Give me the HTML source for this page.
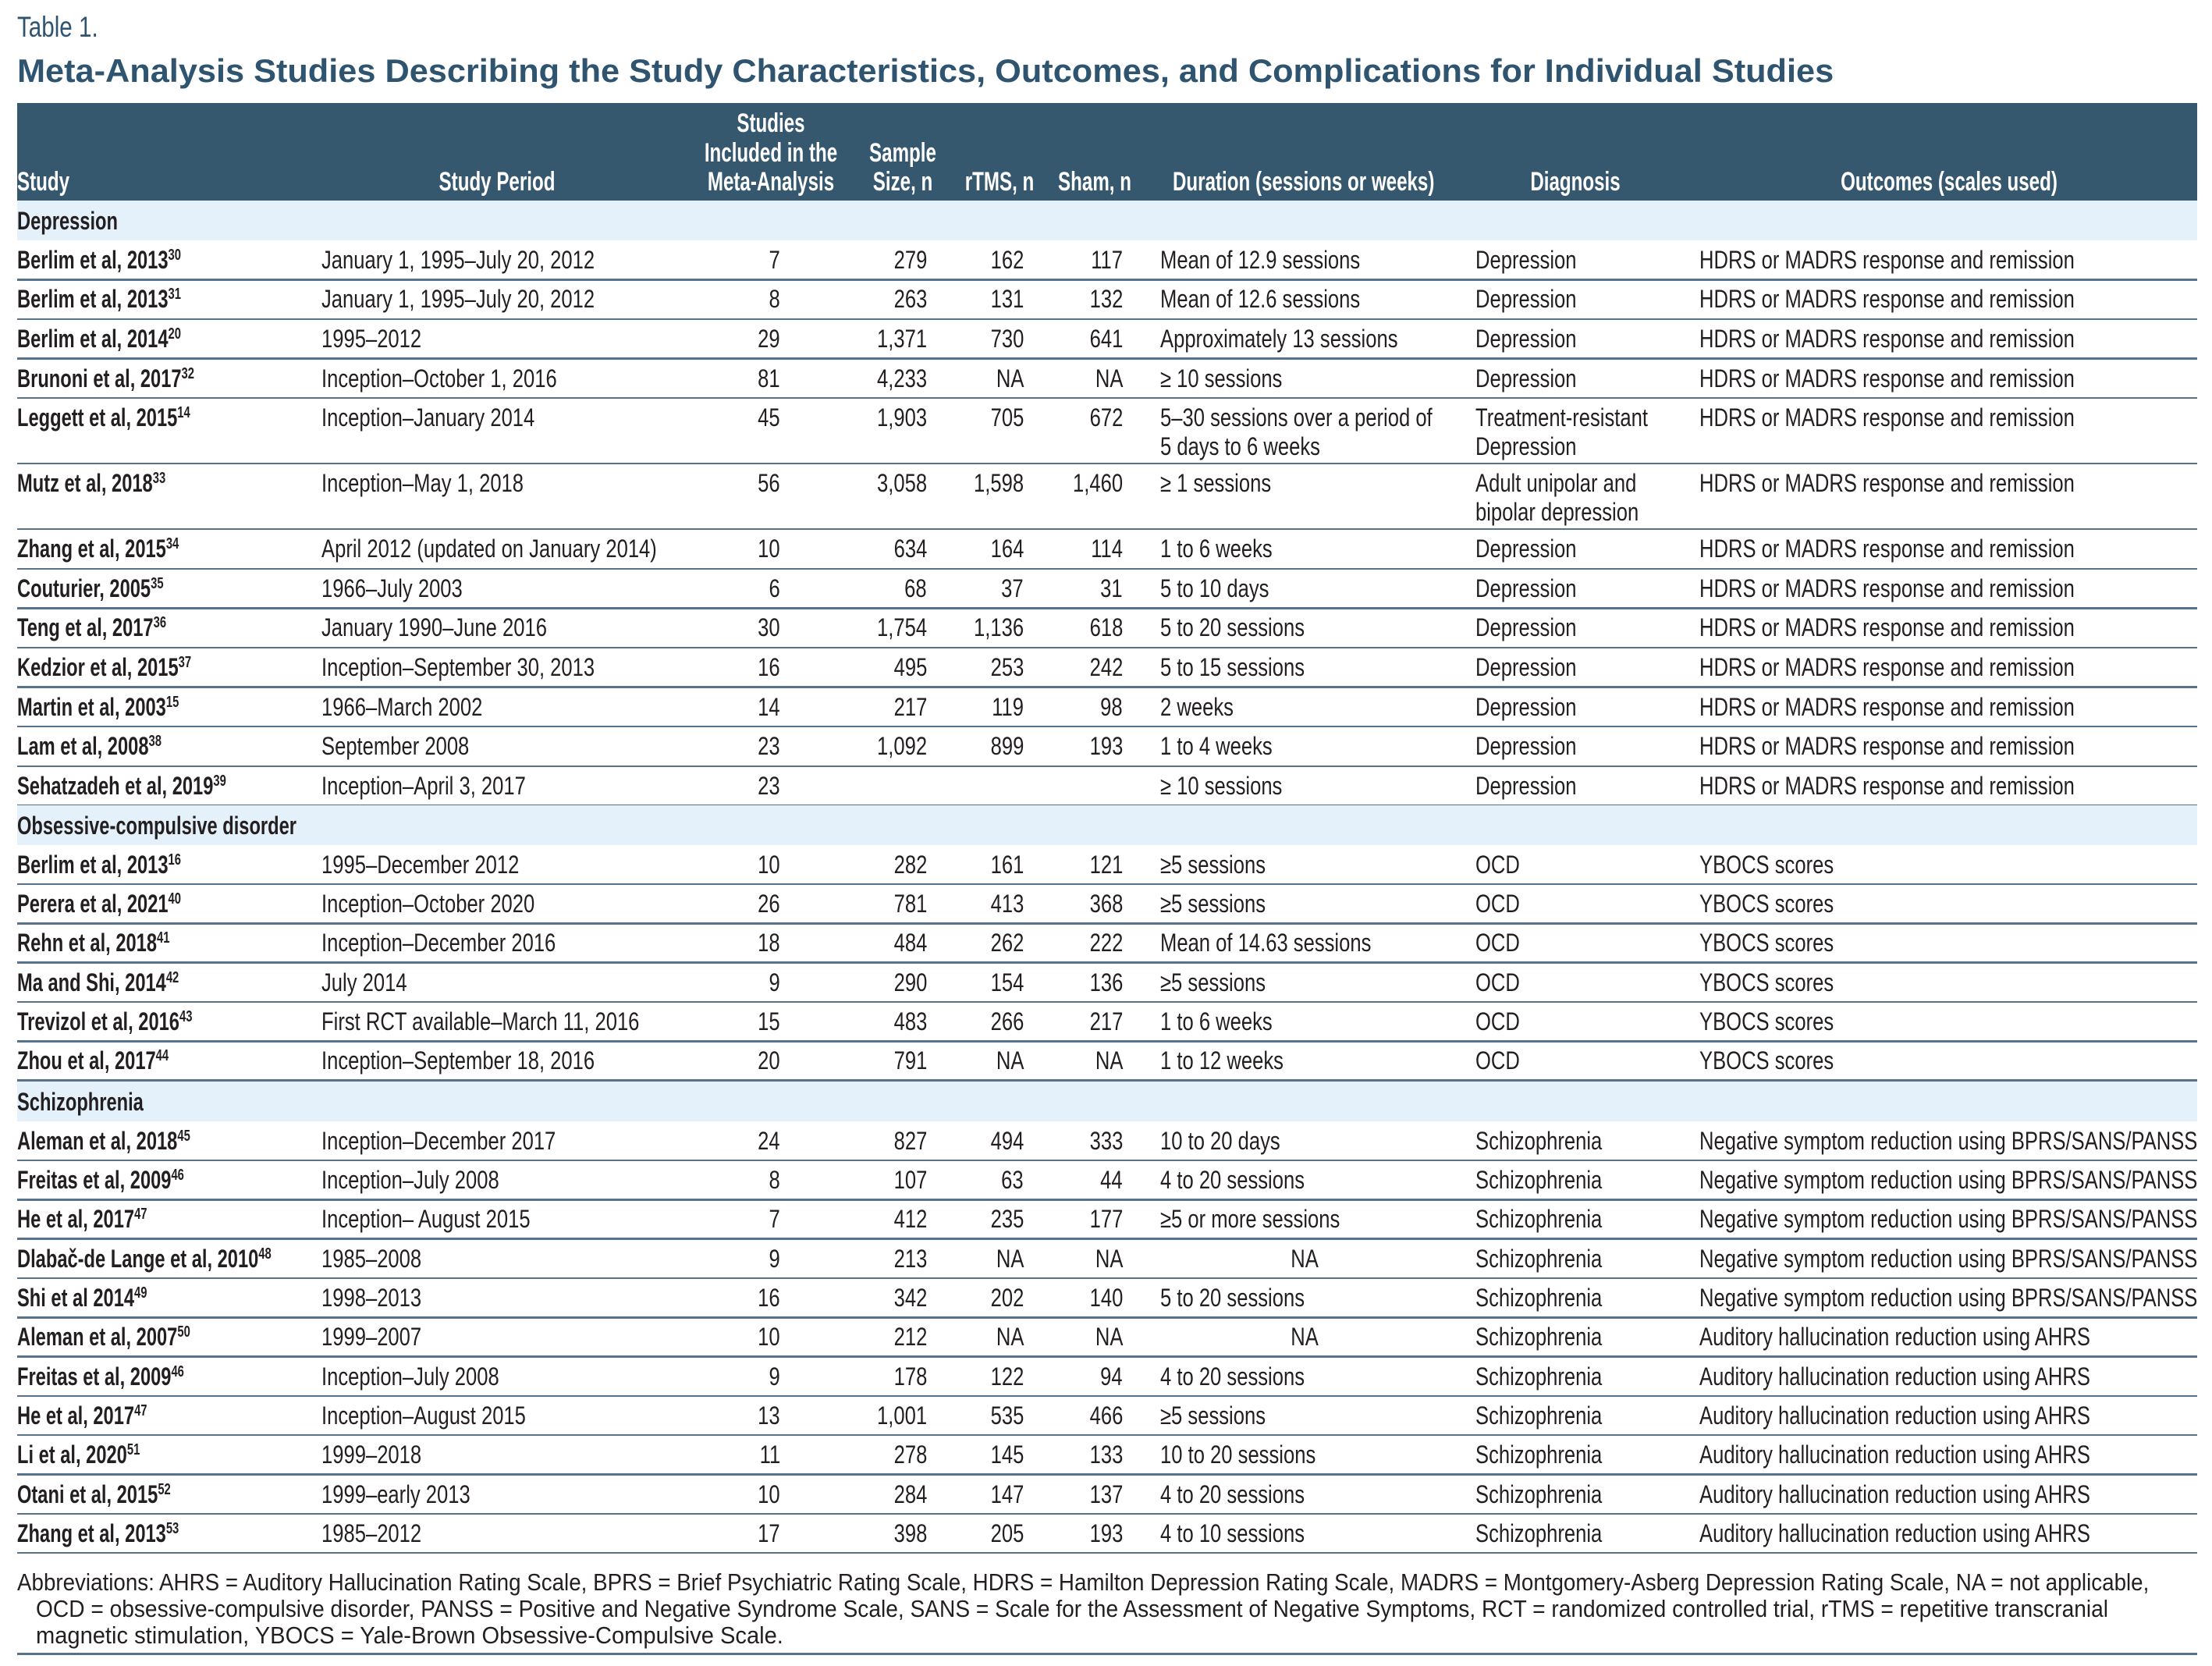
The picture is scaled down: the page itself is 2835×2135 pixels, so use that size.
<!DOCTYPE html>
<html><head><meta charset="utf-8">
<style>
html,body{margin:0;padding:0;background:#fff}
#page{position:relative;width:2835px;height:2135px;overflow:hidden;font-family:"Liberation Sans",sans-serif;color:#231f20}
.t{position:absolute;white-space:nowrap;line-height:1}
.l{transform-origin:left center}
.r{transform-origin:right center}
.c{transform-origin:center center}
sup{font-size:20px;vertical-align:11px;line-height:0}
.hb{position:absolute;left:22px;width:2794px}
</style></head>
<body>
<div id="page">
  <div class="t l" id="tlabel" style="left:22px;top:16px;font-size:37px;color:#2f5470;transform:scaleX(0.8)">Table 1.</div>
  <div class="t l" id="title" style="left:22px;top:70px;font-size:42px;font-weight:bold;color:#2f5470">Meta-Analysis Studies Describing the Study Characteristics, Outcomes, and Complications for Individual Studies</div>
  <div class="hb" style="top:132px;height:125px;background:#36586f"></div>
</div>
<script>
const studies=["Berlim et al, 2013","Berlim et al, 2013","Berlim et al, 2014","Brunoni et al, 2017","Leggett et al, 2015","Mutz et al, 2018","Zhang et al, 2015","Couturier, 2005","Teng et al, 2017","Kedzior et al, 2015","Martin et al, 2003","Lam et al, 2008","Sehatzadeh et al, 2019",
"Berlim et al, 2013","Perera et al, 2021","Rehn et al, 2018","Ma and Shi, 2014","Trevizol et al, 2016","Zhou et al, 2017",
"Aleman et al, 2018","Freitas et al, 2009","He et al, 2017","Dlabač-de Lange et al, 2010","Shi et al 2014","Aleman et al, 2007","Freitas et al, 2009","He et al, 2017","Li et al, 2020","Otani et al, 2015","Zhang et al, 2013"];
const refs=["30","31","20","32","14","33","34","35","36","37","15","38","39","16","40","41","42","43","44","45","46","47","48","49","50","46","47","51","52","53"];
const periods=["January 1, 1995–July 20, 2012","January 1, 1995–July 20, 2012","1995–2012","Inception–October 1, 2016","Inception–January 2014","Inception–May 1, 2018","April 2012 (updated on January 2014)","1966–July 2003","January 1990–June 2016","Inception–September 30, 2013","1966–March 2002","September 2008","Inception–April 3, 2017",
"1995–December 2012","Inception–October 2020","Inception–December 2016","July 2014","First RCT available–March 11, 2016","Inception–September 18, 2016",
"Inception–December 2017","Inception–July 2008","Inception– August 2015","1985–2008","1998–2013","1999–2007","Inception–July 2008","Inception–August 2015","1999–2018","1999–early 2013","1985–2012"];
const nStudies=["7","8","29","81","45","56","10","6","30","16","14","23","23","10","26","18","9","15","20","24","8","7","9","16","10","9","13","11","10","17"];
const sampleN=["279","263","1,371","4,233","1,903","3,058","634","68","1,754","495","217","1,092","","282","781","484","290","483","791","827","107","412","213","342","212","178","1,001","278","284","398"];
const rtmsN=["162","131","730","NA","705","1,598","164","37","1,136","253","119","899","","161","413","262","154","266","NA","494","63","235","NA","202","NA","122","535","145","147","205"];
const shamN=["117","132","641","NA","672","1,460","114","31","618","242","98","193","","121","368","222","136","217","NA","333","44","177","NA","140","NA","94","466","133","137","193"];
const durations=["Mean of 12.9 sessions","Mean of 12.6 sessions","Approximately 13 sessions","≥ 10 sessions","5–30 sessions over a period of|5 days to 6 weeks","≥ 1 sessions","1 to 6 weeks","5 to 10 days","5 to 20 sessions","5 to 15 sessions","2 weeks","1 to 4 weeks","≥ 10 sessions",
"≥5 sessions","≥5 sessions","Mean of 14.63 sessions","≥5 sessions","1 to 6 weeks","1 to 12 weeks",
"10 to 20 days","4 to 20 sessions","≥5 or more sessions","NA","5 to 20 sessions","NA","4 to 20 sessions","≥5 sessions","10 to 20 sessions","4 to 20 sessions","4 to 10 sessions"];
const diagnoses=["Depression","Depression","Depression","Depression","Treatment-resistant|Depression","Adult unipolar and|bipolar depression","Depression","Depression","Depression","Depression","Depression","Depression","Depression",
"OCD","OCD","OCD","OCD","OCD","OCD",
"Schizophrenia","Schizophrenia","Schizophrenia","Schizophrenia","Schizophrenia","Schizophrenia","Schizophrenia","Schizophrenia","Schizophrenia","Schizophrenia","Schizophrenia"];
const NEG="Negative symptom reduction using BPRS/SANS/PANSS", AUD="Auditory hallucination reduction using AHRS", HD="HDRS or MADRS response and remission", YB="YBOCS scores";
const outcomes=[HD,HD,HD,HD,HD,HD,HD,HD,HD,HD,HD,HD,HD,YB,YB,YB,YB,YB,YB,NEG,NEG,NEG,NEG,NEG,AUD,AUD,AUD,AUD,AUD,AUD];
const groups=[["Depression",0,13],["Obsessive-compulsive disorder",13,19],["Schizophrenia",19,30]];

const page=document.getElementById('page');
const BS=0.8, HS=0.71;
function txt(html,x,base,fs,align,opts){
  opts=opts||{};
  const d=document.createElement('div');
  d.className='t '+(align==='left'?'l':align==='right'?'r':'c');
  d.innerHTML=html;
  d.style.fontSize=fs+'px';
  d.style.top=(base-0.847*fs)+'px';
  const s=opts.scale||BS;
  if(align==='left'){d.style.left=x+'px';d.style.transform='scaleX('+s+')';}
  else if(align==='right'){d.style.right=(2835-x)+'px';d.style.transform='scaleX('+s+')';}
  else{d.style.left=x+'px';d.style.transform='translateX(-50%) scaleX('+s+')';}
  if(opts.bold)d.style.fontWeight='bold';
  if(opts.color)d.style.color=opts.color;
  page.appendChild(d);
  return d;
}
const hdrs=[["Study",22,'left'],["Study Period",637,'center'],["Studies|Included in the|Meta-Analysis",988,'center'],["Sample|Size, n",1157,'center'],["rTMS, n",1281,'center'],["Sham, n",1403,'center'],["Duration (sessions or weeks)",1503,'left'],["Diagnosis",2019,'center'],["Outcomes (scales used)",2498,'center']];
const hdrNames=["study","study-period","studies-included","sample-size","rtms-n","sham-n","duration","diagnosis","outcomes"];
hdrs.forEach((h,i)=>{
  const lines=h[0].split('|');
  lines.forEach((ln,j)=>{
    const e=txt(ln,h[1],245-(lines.length-1-j)*37.5,34,h[2],{bold:true,color:'#fff',scale:HS});
    
    
  });
});
const groupTops=[257,1032,1386];
const rowH=[50.6,50.3,50.3];
const cols={period:412,nst:1000,samp:1188,rtms:1312,sham:1439,dur:1487,durC:1672,diag:1891,out:2178};
function hline(y,h,name){
  const d=document.createElement('div');
  d.className='hb';d.style.top=y+'px';d.style.height=h+'px';d.style.background='#56738b';
  
  
  page.appendChild(d);
}
groups.forEach((g,gi)=>{
  let y=groupTops[gi];
  const band=document.createElement('div');
  band.className='hb';band.style.top=y+'px';band.style.height='51px';band.style.background='#e4f1fa';
  
  
  page.appendChild(band);
  const bl=txt(g[0],22,y+37,32,'left',{bold:true,scale:0.74});
  
  
  y+=51;
  for(let i=g[1];i<g[2];i++){
    const two=durations[i].includes('|')||diagnoses[i].includes('|');
    const h=two?84:rowH[gi];
    const b=y+36;
    const cells=[
      [studies[i]+'<sup>'+refs[i]+'</sup>',22,'left',{bold:true,scale:0.74},'study-name'],
      [periods[i],cols.period,'left',{},'study-period'],
      [nStudies[i],cols.nst,'right',{},'studies-included'],
      [sampleN[i],cols.samp,'right',{},'sample-size'],
      [rtmsN[i],cols.rtms,'right',{},'rtms-n'],
      [shamN[i],cols.sham,'right',{},'sham-n'],
    ];
    cells.forEach(c=>{ if(c[0]!==''){const e=txt(c[0],c[1],b,32,c[2],c[3]);
      
      }});
    if(durations[i]==='NA'){
      const e=txt('NA',cols.durC,b,32,'center');
      
      
    } else durations[i].split('|').forEach((ln,j)=>{
      const e=txt(ln,cols.dur,b+j*37,32,'left');
      
      
    });
    diagnoses[i].split('|').forEach((ln,j)=>{
      const e=txt(ln,cols.diag,b+j*37,32,'left');
      
      
    });
    const o=txt(outcomes[i],cols.out,b,32,'left');
    
    
    y+=h;
    hline(y-1.5,2.5,'row-divider');
  }
});
const abbr=["Abbreviations: AHRS = Auditory Hallucination Rating Scale, BPRS = Brief Psychiatric Rating Scale, HDRS = Hamilton Depression Rating Scale, MADRS = Montgomery-Asberg Depression Rating Scale, NA = not applicable,",
"OCD = obsessive-compulsive disorder, PANSS = Positive and Negative Syndrome Scale, SANS = Scale for the Assessment of Negative Symptoms, RCT = randomized controlled trial, rTMS = repetitive transcranial",
"magnetic stimulation, YBOCS = Yale-Brown Obsessive-Compulsive Scale."];
const abbrX=[22,46,46], abbrEnd=[2754,2702,1004], abbrBase=[2038,2072,2106];
abbr.forEach((a,i)=>{
  const e=txt(a,abbrX[i],abbrBase[i],31,'left',{scale:1});
  
  
  const w=e.offsetWidth; e.style.transform='scaleX('+((abbrEnd[i]-abbrX[i])/w)+')';
});
hline(2118,3,'bottom-rule');
const t=document.getElementById('title');
t.style.transform='scaleX('+((2350-22)/t.offsetWidth)+')';
</script>
</body></html>
